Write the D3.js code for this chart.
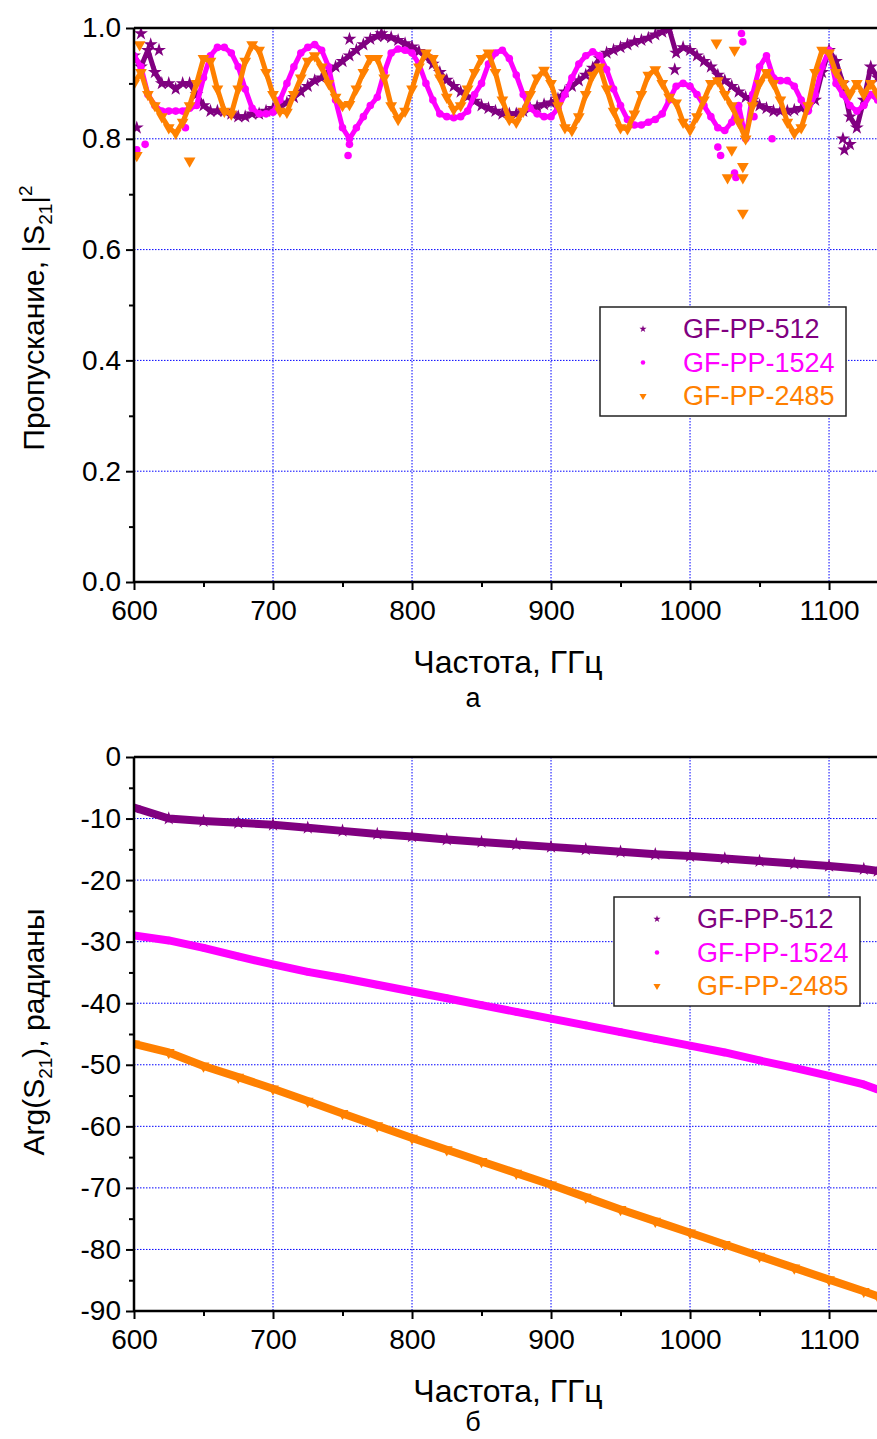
<!DOCTYPE html>
<html>
<head>
<meta charset="utf-8">
<script src="https://cdn.jsdelivr.net/npm/d3@7"></script>
<style>
  body { margin: 0; background: #fff; }
  text { font-family: "Liberation Sans", Arial, sans-serif; }
</style>
</head>
<body>
<div id="chart"></div>
<script>
// frequency grid of panel (a), GHz
let freqA = [600,605,610,615,620,625,630,635,640,645,
  650,655,660,665,670,675,680,685,690,695,
  700,705,710,715,720,725,730,735,740,745,
  750,755,760,765,770,775,780,785,790,795,
  800,805,810,815,820,825,830,835,840,845,
  850,855,860,865,870,875,880,885,890,895,
  900,905,910,915,920,925,930,935,940,945,
  950,955,960,965,970,975,980,985,990,995,
  1000,1005,1010,1015,1020,1025,1030,1035,1040,1045,
  1050,1055,1060,1065,1070,1075,1080,1085,1090,1095,
  1100,1105,1110,1115,1120,1125,1130,1135];

// |S21|^2
let trans512 = [0.95,0.93,0.96,0.92,0.90,0.90,0.89,0.90,0.90,0.88,
  0.86,0.85,0.85,0.85,0.845,0.84,0.84,0.845,0.845,0.85,
  0.855,0.86,0.865,0.875,0.885,0.895,0.905,0.91,0.92,0.93,
  0.94,0.95,0.96,0.97,0.98,0.985,0.985,0.983,0.978,0.972,
  0.966,0.958,0.948,0.935,0.92,0.906,0.895,0.885,0.876,0.868,
  0.86,0.855,0.85,0.845,0.845,0.845,0.85,0.855,0.858,0.862,
  0.865,0.872,0.885,0.895,0.905,0.915,0.928,0.945,0.955,0.96,
  0.965,0.97,0.975,0.978,0.982,0.988,0.993,0.998,0.955,0.965,
  0.96,0.95,0.94,0.93,0.915,0.905,0.895,0.885,0.875,0.87,
  0.86,0.855,0.85,0.85,0.85,0.852,0.855,0.86,0.87,0.92,
  0.96,0.94,0.90,0.84,0.82,0.87,0.93,0.91];

let trans1524 = [0.95,0.93,0.88,0.86,0.85,0.85,0.85,0.85,0.855,0.86,
  0.91,0.95,0.965,0.965,0.955,0.93,0.89,0.855,0.845,0.845,
  0.848,0.87,0.90,0.93,0.955,0.965,0.97,0.96,0.93,0.87,
  0.82,0.80,0.82,0.84,0.86,0.875,0.92,0.955,0.962,0.96,
  0.955,0.935,0.90,0.87,0.845,0.84,0.838,0.84,0.85,0.88,
  0.90,0.935,0.955,0.96,0.945,0.915,0.88,0.855,0.845,0.84,
  0.84,0.855,0.88,0.91,0.935,0.95,0.957,0.95,0.925,0.89,
  0.86,0.835,0.825,0.825,0.83,0.835,0.845,0.87,0.895,0.90,
  0.895,0.88,0.86,0.84,0.82,0.815,0.83,0.86,0.80,0.88,
  0.93,0.95,0.91,0.905,0.905,0.895,0.87,0.85,0.88,0.93,
  0.96,0.90,0.88,0.86,0.85,0.86,0.88,0.87];

let trans2485 = [0.90,0.92,0.88,0.86,0.84,0.82,0.81,0.83,0.86,0.90,
  0.945,0.94,0.89,0.85,0.845,0.89,0.94,0.97,0.96,0.92,
  0.88,0.85,0.848,0.88,0.91,0.94,0.95,0.93,0.90,0.875,
  0.86,0.862,0.89,0.92,0.945,0.945,0.91,0.86,0.835,0.85,
  0.89,0.93,0.955,0.945,0.91,0.875,0.853,0.86,0.89,0.92,
  0.945,0.955,0.92,0.87,0.835,0.83,0.85,0.88,0.91,0.924,
  0.90,0.86,0.82,0.815,0.84,0.88,0.915,0.93,0.89,0.85,
  0.82,0.818,0.845,0.88,0.915,0.925,0.90,0.875,0.865,0.83,
  0.816,0.84,0.87,0.90,0.905,0.88,0.86,0.83,0.80,0.86,
  0.90,0.92,0.90,0.87,0.83,0.81,0.82,0.86,0.92,0.96,
  0.955,0.92,0.90,0.88,0.90,0.88,0.90,0.88];

// scattered single points [GHz, value]
let stray512 = [[602,0.82],[605,0.99],[612,0.97],[618,0.96],[755,0.98],[778,0.99],[989,0.925],[1110,0.80],[1111,0.78],[1115,0.79]];
let stray1524 = [[602,0.78],[608,0.79],[637,0.82],[754,0.77],[755,0.79],[1020,0.785],[1022,0.77],[1032,0.738],[1033,0.73],[1037,0.99],[1038,0.975],[1046,0.84],[1059,0.80]];
let stray2485 = [[602,0.77],[604,0.97],[640,0.76],[1019,0.973],[1027,0.73],[1030,0.78],[1032,0.96],[1038,0.73],[1038,0.75],[1038,0.666]];

// panel (b): Arg(S21), rad
let freqB = [600,625,650,675,700,725,750,775,800,825,850,875,900,925,950,975,1000,1025,1050,1075,1100,1125,1135];
let arg512 = [-8.2,-10.0,-10.4,-10.7,-11.0,-11.5,-12.0,-12.5,-12.9,-13.4,-13.8,-14.2,-14.6,-15.0,-15.4,-15.8,-16.1,-16.5,-16.9,-17.3,-17.7,-18.2,-18.5];
let arg1524 = [-29.0,-29.8,-31.0,-32.4,-33.7,-34.9,-35.9,-37.0,-38.1,-39.2,-40.3,-41.4,-42.5,-43.6,-44.7,-45.8,-46.9,-48.0,-49.3,-50.5,-51.8,-53.2,-54.0];
let arg2485 = [-46.6,-48.0,-50.2,-52.0,-53.9,-55.9,-57.9,-59.9,-61.9,-63.8,-65.7,-67.6,-69.5,-71.5,-73.5,-75.4,-77.3,-79.2,-81.1,-83.0,-84.9,-86.8,-87.6];

let seriesNames = ["GF-PP-512", "GF-PP-1524", "GF-PP-2485"];
let colors = ["#800080", "#ff00ff", "#ff8000"];
let xTicks = [600, 700, 800, 900, 1000, 1100];

let width = 877, height = 1439;
let left = 134;

let svg = d3.select("#chart").append("svg")
  .attr("width", width)
  .attr("height", height);

let x = d3.scaleLinear().domain([600, 1134.5]).range([left, width]);

// marker shapes: star, circle, down triangle
let symbols = [
  d3.symbol().type(d3.symbolStar).size(60),
  d3.symbol().type(d3.symbolCircle).size(45),
  d3.symbol().type(d3.symbolTriangle).size(60)
];
let smallSymbols = [
  d3.symbol().type(d3.symbolStar).size(16),
  d3.symbol().type(d3.symbolCircle).size(16),
  d3.symbol().type(d3.symbolTriangle).size(22)
];

function drawPanel(opt) {
  let y = d3.scaleLinear().domain(opt.yDomain).range([opt.bottom, opt.top]);
  let g = svg.append("g");

  g.append("clipPath").attr("id", opt.id + "clip")
    .append("rect")
    .attr("x", left).attr("y", opt.top)
    .attr("width", width - left).attr("height", opt.bottom - opt.top);

  // grid
  g.selectAll(".vg").data(xTicks.slice(1)).enter().append("line")
    .attr("x1", d => x(d)).attr("x2", d => x(d))
    .attr("y1", opt.top).attr("y2", opt.bottom)
    .attr("stroke", "#0000ff").attr("stroke-width", 1)
    .attr("stroke-dasharray", "1.5,1.5");
  g.selectAll(".hg").data(opt.yTicks.slice(1, -1)).enter().append("line")
    .attr("x1", left).attr("x2", width)
    .attr("y1", d => y(d)).attr("y2", d => y(d))
    .attr("stroke", "#0000ff").attr("stroke-width", 1)
    .attr("stroke-dasharray", "1.5,1.5");

  // data
  let plot = g.append("g").attr("clip-path", "url(#" + opt.id + "clip)");
  opt.series.forEach((s, i) => {
    let pts = s.vals.map((v, k) => [s.freq[k], v]);
    let line = d3.line().x(d => x(d[0])).y(d => y(d[1]));
    plot.append("path")
      .attr("d", line(pts))
      .attr("fill", "none")
      .attr("stroke", colors[i])
      .attr("stroke-width", opt.lineWidth)
      .attr("stroke-linejoin", "round");
    plot.selectAll(".m" + i).data(pts.concat(s.stray || [])).enter().append("path")
      .attr("d", symbols[i])
      .attr("transform", d => "translate(" + x(d[0]) + "," + y(d[1]) + ")" + (i == 2 ? " rotate(180)" : ""))
      .attr("fill", colors[i]);
  });

  // axes
  let xAxis = d3.axisBottom(x).tickValues(xTicks).tickSize(8).tickPadding(10).tickFormat(d => String(d));
  let gx = g.append("g").attr("transform", "translate(0," + opt.bottom + ")").call(xAxis);
  gx.selectAll(".tick line").attr("stroke-width", 2);
  gx.select(".domain").remove();
  gx.selectAll(".tick text").attr("font-size", 28).attr("font-family", "Liberation Sans, Arial, sans-serif").attr("fill", "#000");
  g.append("g").attr("transform", "translate(0," + opt.bottom + ")")
    .call(d3.axisBottom(x).tickValues([650, 750, 850, 950, 1050]).tickSize(5).tickFormat(""))
    .call(a => a.select(".domain").remove())
    .selectAll("line").attr("stroke-width", 2);

  let yAxis = d3.axisLeft(y).tickValues(opt.yTicks).tickSize(8).tickPadding(5).tickFormat(opt.fmt);
  let gy = g.append("g").attr("transform", "translate(" + left + ",0)").call(yAxis);
  gy.selectAll(".tick line").attr("stroke-width", 2);
  gy.select(".domain").remove();
  gy.selectAll(".tick text").attr("font-size", 28).attr("font-family", "Liberation Sans, Arial, sans-serif").attr("fill", "#000");
  g.append("g").attr("transform", "translate(" + left + ",0)")
    .call(d3.axisLeft(y).tickValues(opt.yMinor).tickSize(5).tickFormat(""))
    .call(a => a.select(".domain").remove())
    .selectAll("line").attr("stroke-width", 2);

  // frame lines
  g.append("line").attr("x1", left).attr("x2", width).attr("y1", opt.bottom).attr("y2", opt.bottom)
    .attr("stroke", "#000").attr("stroke-width", 2.5);
  g.append("line").attr("x1", left).attr("x2", width).attr("y1", opt.top).attr("y2", opt.top)
    .attr("stroke", "#000").attr("stroke-width", 2.5);
  g.append("line").attr("x1", left).attr("x2", left).attr("y1", opt.top).attr("y2", opt.bottom)
    .attr("stroke", "#000").attr("stroke-width", 2.5);

  // titles
  g.append("text")
    .attr("x", 508).attr("y", opt.bottom + 91)
    .attr("text-anchor", "middle").attr("font-size", 32)
    .text("Частота, ГГц");

  let yt = g.append("text")
    .attr("transform", "translate(" + 44 + "," + opt.yTitleY + ") rotate(-90)")
    .attr("text-anchor", "middle").attr("font-size", 30);
  opt.yTitle(yt);

  g.append("text")
    .attr("x", 473).attr("y", opt.bottom + opt.capDy)
    .attr("text-anchor", "middle")
    .attr("font-family", "Liberation Serif, Times New Roman, serif")
    .attr("font-size", 27)
    .text(opt.caption);

  // legend
  let lg = g.append("g").attr("transform", "translate(" + opt.legend[0] + "," + opt.legend[1] + ")");
  lg.append("rect").attr("x", 0).attr("y", 0).attr("width", 246).attr("height", 109)
    .attr("fill", "#fff").attr("stroke", "#222").attr("stroke-width", 1.5);
  seriesNames.forEach((n, i) => {
    let cy = 22 + i * 33.5;
    lg.append("path").attr("d", smallSymbols[i])
      .attr("transform", "translate(43," + cy + ")" + (i == 2 ? " rotate(180)" : ""))
      .attr("fill", colors[i]);
    lg.append("text").attr("x", 83).attr("y", cy + 9)
      .attr("font-size", 27).attr("fill", colors[i]).text(n);
  });
}

drawPanel({
  id: "a",
  top: 28, bottom: 582,
  yDomain: [0, 1],
  yTicks: [0, 0.2, 0.4, 0.6, 0.8, 1.0],
  yMinor: [0.1, 0.3, 0.5, 0.7, 0.9],
  fmt: d3.format(".1f"),
  lineWidth: 5,
  series: [
    {freq: freqA, vals: trans512, stray: stray512},
    {freq: freqA, vals: trans1524, stray: stray1524},
    {freq: freqA, vals: trans2485, stray: stray2485}
  ],
  yTitleY: 318,
  yTitle: t => {
    t.append("tspan").text("Пропускание, |S");
    t.append("tspan").attr("font-size", 19).attr("dy", 8).text("21");
    t.append("tspan").attr("dy", -8).text("|");
    t.append("tspan").attr("font-size", 19).attr("dy", -12).text("2");
  },
  caption: "а",
  capDy: 125,
  legend: [600, 307]
});

drawPanel({
  id: "b",
  top: 757, bottom: 1311,
  yDomain: [-90, 0],
  yTicks: [-90, -80, -70, -60, -50, -40, -30, -20, -10, 0],
  yMinor: [-85, -75, -65, -55, -45, -35, -25, -15, -5],
  fmt: d => String(d),
  lineWidth: 8,
  series: [
    {freq: freqB, vals: arg512},
    {freq: freqB, vals: arg1524},
    {freq: freqB, vals: arg2485}
  ],
  yTitleY: 1032,
  yTitle: t => {
    t.append("tspan").text("Arg(S");
    t.append("tspan").attr("font-size", 19).attr("dy", 8).text("21");
    t.append("tspan").attr("dy", -8).text("), радианы");
  },
  caption: "б",
  capDy: 120,
  legend: [614, 897]
});
</script>
</body>
</html>
